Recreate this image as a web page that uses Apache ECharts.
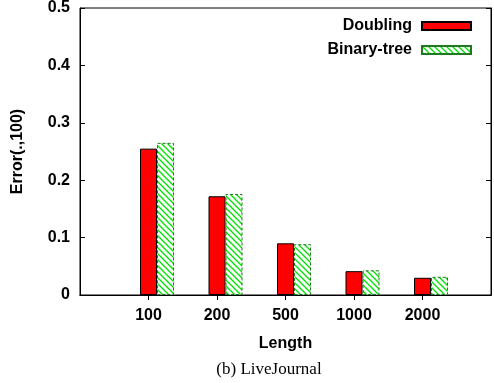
<!DOCTYPE html>
<html>
<head>
<meta charset="utf-8">
<script src="https://cdn.jsdelivr.net/npm/echarts@6/dist/echarts.min.js"></script>
<style>
  html, body { margin: 0; padding: 0; background: #fff; }
  #chart { width: 494px; height: 383px; }
</style>
</head>
<body>
<div id="chart"></div>
<script>
// categories (empty slots pad the axis ends, like the gnuplot x range)
var categories = ["", "100", "200", "500", "1000", "2000", ""];
var doubling = [null, 0.255, 0.172, 0.090, 0.0415, 0.030, null];
var binaryTree = [null, 0.265, 0.176, 0.0885, 0.043, 0.0317, null];
var yTicks = [0, 0.1, 0.2, 0.3, 0.4, 0.5];

// hatch pattern for the binary-tree bars
function makeHatch() {
  var c = document.createElement("canvas");
  c.width = 6;
  c.height = 6;
  var ctx = c.getContext("2d");
  ctx.fillStyle = "#fff";
  ctx.fillRect(0, 0, 6, 6);
  ctx.strokeStyle = "#00e000";
  ctx.lineWidth = 1.3;
  ctx.beginPath();
  ctx.moveTo(-1, -1); ctx.lineTo(7, 7);
  ctx.moveTo(-4, 2); ctx.lineTo(4, 10);
  ctx.moveTo(2, -4); ctx.lineTo(10, 4);
  ctx.stroke();
  return c;
}
var hatch = makeHatch();

var chartDom = document.getElementById("chart");
var myChart = echarts.init(chartDom);
var option;

var boldFont = "Liberation Sans, Arial, sans-serif";

option = {
  animation: false,
  grid: {
    left: 80, right: 3, top: 8, bottom: 88,
    outerBoundsMode: "none",
    show: true, borderColor: "#000", borderWidth: 1
  },
  title: {
    text: "(b) LiveJournal",
    left: 264, top: 356, textAlign: "center",
    textStyle: { fontFamily: "Liberation Serif, Times New Roman, serif", fontWeight: "normal", fontSize: 17, color: "#000" }
  },
  legend: {
    orient: "vertical",
    right: 17, top: 13,
    align: "right",
    icon: "rect",
    itemWidth: 49, itemHeight: 8, itemGap: 8,
    data: ["Doubling", "Binary-tree"],
    textStyle: { fontFamily: boldFont, fontWeight: "bold", fontSize: 16, color: "#000", padding: [0, 5, 0, 0] }
  },
  xAxis: [
    {
      type: "category",
      data: categories,
      boundaryGap: false,
      name: "Length",
      nameLocation: "middle",
      nameGap: 41,
      nameTextStyle: { fontFamily: boldFont, fontWeight: "bold", fontSize: 16, color: "#000" },
      axisLine: { lineStyle: { color: "#000", width: 1 } },
      axisTick: { show: false },
      axisLabel: { fontFamily: boldFont, fontWeight: "bold", fontSize: 16, color: "#000", margin: 13, interval: 0 }
    },
    {
      type: "category",
      position: "top",
      data: categories,
      boundaryGap: false,
      axisLine: { lineStyle: { color: "#000", width: 1 } },
      axisTick: { show: true, inside: true, length: 5, lineStyle: { color: "#000" },
        interval: function (i, v) { return v !== ""; } },
      axisLabel: { show: false }
    }
  ],
  yAxis: [
    {
      type: "value",
      min: 0, max: 0.5, interval: 0.1,
      name: "Error(.,100)",
      nameLocation: "middle",
      nameGap: 54,
      nameTextStyle: { fontFamily: boldFont, fontWeight: "bold", fontSize: 16, color: "#000" },
      splitLine: { show: false },
      axisLine: { show: true, lineStyle: { color: "#000", width: 1 } },
      axisTick: { show: true, inside: true, length: 5, lineStyle: { color: "#000" } },
      axisLabel: {
        fontFamily: boldFont, fontWeight: "bold", fontSize: 16, color: "#000", margin: 10,
        formatter: function (v) { return v === 0 ? "0" : v.toFixed(1); }
      }
    },
    {
      type: "value",
      position: "right",
      min: 0, max: 0.5, interval: 0.1,
      splitLine: { show: false },
      axisLine: { show: true, lineStyle: { color: "#000", width: 1 } },
      axisTick: { show: true, inside: true, length: 5, lineStyle: { color: "#000" } },
      axisLabel: { show: false }
    }
  ],
  series: [
    {
      // placeholder so that the red bar sits centred on the tick
      name: "pad",
      type: "bar",
      data: categories.map(function () { return null; }),
      barWidth: 17,
      barGap: 0,
      silent: true
    },
    {
      name: "Doubling",
      type: "bar",
      data: doubling,
      barWidth: 17,
      barGap: 0,
      itemStyle: { color: "#ff0000", borderColor: "#000", borderWidth: 1 }
    },
    {
      name: "Binary-tree",
      type: "bar",
      data: binaryTree,
      barWidth: 17,
      barGap: 0,
      itemStyle: {
        color: { image: hatch, repeat: "repeat" },
        borderColor: "#1f7a1f", borderWidth: 1, borderType: [3, 2]
      }
    }
  ]
};

option && myChart.setOption(option);
</script>
</body>
</html>
